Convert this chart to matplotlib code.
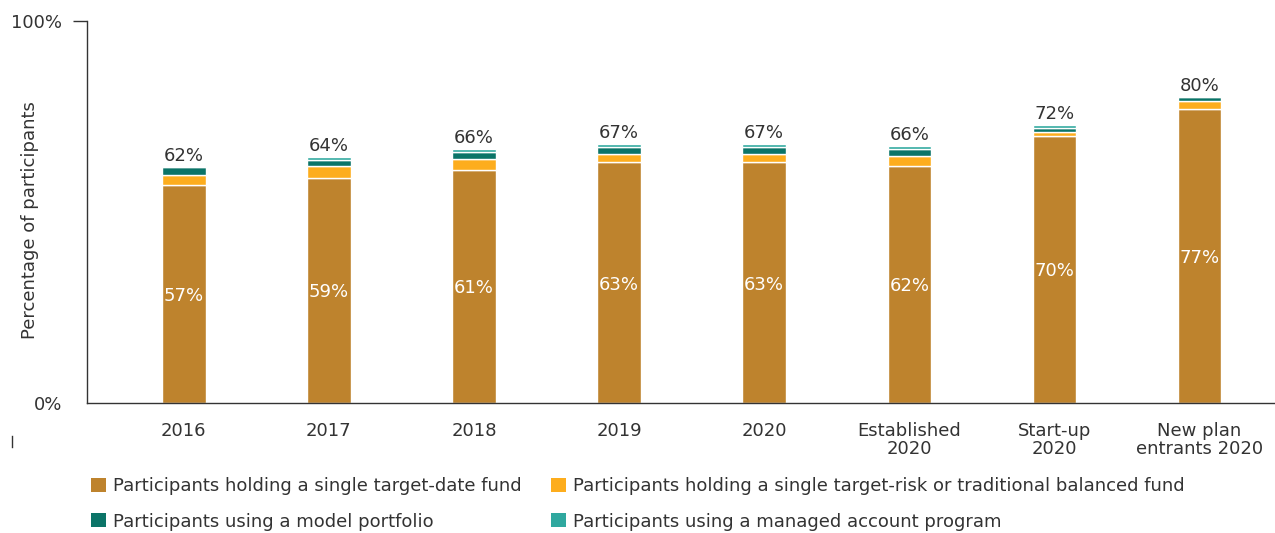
import matplotlib
matplotlib.use("Agg")
import matplotlib.pyplot as plt
import numpy as np
from matplotlib.patches import Patch
from matplotlib.lines import Line2D

categories = ["2016", "2017", "2018", "2019", "2020", "Established\n2020", "Start-up\n2020", "New plan\nentrants 2020"]
target_date = [57, 59, 61, 63, 63, 62, 70, 77]
target_risk = [2.6, 3.0, 2.8, 2.2, 2.3, 2.6, 1.0, 2.0]
model_portfolio = [2.2, 1.5, 1.9, 1.8, 1.8, 2.0, 1.0, 1.0]
managed_account = [0.0, 1.0, 0.9, 0.9, 0.8, 0.7, 0.9, 0.0]
totals = ["62%", "64%", "66%", "67%", "67%", "66%", "72%", "80%"]
tdf_labels = ["57%", "59%", "61%", "63%", "63%", "62%", "70%", "77%"]
series_names = [
    "Participants holding a single target-date fund",
    "Participants holding a single target-risk or traditional balanced fund",
    "Participants using a model portfolio",
    "Participants using a managed account program",
]
colors = ["#BE832D", "#FDAD1D", "#0B7468", "#2FA89F"]

plt.rcParams['font.family'] = ['DejaVu Sans']
txt = "#333333"
fs = 13

fig = plt.figure(figsize=(12.75, 5.33), dpi=100)
ax = fig.add_axes([87/1275, 1-403/533, 1-87/1275, (403-21)/533])

x = np.arange(len(categories))
w = 0.30
series = [target_date, target_risk, model_portfolio, managed_account]
bottom = np.zeros(len(categories))
for vals, c in zip(series, colors):
    v = np.array(vals, dtype=float)
    ax.bar(x, v, w, bottom=bottom, color=c, edgecolor="white", linewidth=1.0)
    bottom += v

for i in range(len(categories)):
    ax.text(x[i], bottom[i] + 0.5, totals[i], ha="center", va="bottom", fontsize=fs, color=txt)
    ax.text(x[i], target_date[i] / 2 - 0.5, tdf_labels[i], ha="center", va="center", fontsize=fs, color="white")

ax.set_xlim(-0.667, 7.52)
ax.set_ylim(0, 100)
ax.set_yticks([0, 100])
ax.set_yticklabels(["0%", "100%"], fontsize=fs, color=txt)
ax.tick_params(axis="y", length=10, width=1, color="#333333", pad=8)
ax.yaxis.get_major_ticks()[0].tick1line.set_visible(False)
ax.set_xticks(x)
ax.set_xticklabels(categories, fontsize=fs, color=txt, linespacing=1.0)
ax.tick_params(axis="x", length=0, pad=14)
for s in ["top", "right"]:
    ax.spines[s].set_visible(False)
for s in ["left", "bottom"]:
    ax.spines[s].set_color("#333333")
    ax.spines[s].set_linewidth(1)
ax.set_ylabel("Percentage of participants", fontsize=fs, color=txt)
ax.yaxis.set_label_coords(-0.04, 0.48)

# small vertical mark
fig.add_artist(Line2D([12/1275, 12/1275], [1-436/533, 1-447/533], color="#333333", lw=1))

handles = [Patch(facecolor=c, edgecolor="none") for c in colors]
common = dict(loc="upper left", frameon=False, fontsize=fs, handlelength=0.8, handleheight=0.8,
              handletextpad=0.4, labelspacing=0.95, labelcolor=txt, borderaxespad=0, borderpad=0.3)
leg1 = fig.legend([handles[0], handles[2]], [series_names[0], series_names[2]],
                  bbox_to_anchor=(86/1275, 1-472/533), **common)
leg2 = fig.legend([handles[1], handles[3]], [series_names[1], series_names[3]],
                  bbox_to_anchor=(546/1275, 1-472/533), **common)

fig.savefig("out.png", dpi=100)
